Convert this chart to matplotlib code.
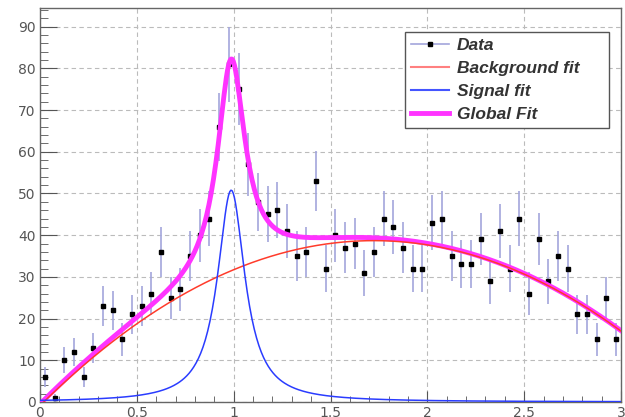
import numpy as np
import matplotlib
matplotlib.use("Agg")
import matplotlib.pyplot as plt
from matplotlib.lines import Line2D
from matplotlib.ticker import FuncFormatter, MultipleLocator

# histogram: 60 bins on [0, 3]
bin_lo, bin_hi = 0.0, 3.0
counts = [6, 1, 10, 12, 6, 13, 23, 22, 15, 21,
          23, 26, 36, 25, 27, 35, 40, 44, 66, 81,
          75, 57, 48, 45, 46, 41, 35, 36, 53, 32,
          40, 37, 38, 31, 36, 44, 42, 37, 32, 32,
          43, 44, 35, 33, 33, 39, 29, 41, 32, 44,
          26, 39, 29, 35, 32, 21, 21, 15, 25, 15]

# fit results: quadratic background + lorentzian peak
bkg_pars = [-0.864, 45.90, -13.315]
peak_area, peak_width, peak_mean = 13.75, 0.1723, 0.9873

legend_labels = ["Data", "Background fit", "Signal fit", "Global Fit"]

counts = np.array(counts, dtype=float)
nb = len(counts)
edges = np.linspace(bin_lo, bin_hi, nb + 1)
centers = 0.5 * (edges[:-1] + edges[1:])
errs = np.sqrt(counts)


def background(x):
    return bkg_pars[0] + bkg_pars[1] * x + bkg_pars[2] * x ** 2


def lorentz(x):
    return (0.5 * peak_area * peak_width / np.pi) / np.maximum(
        1e-10, (x - peak_mean) ** 2 + 0.25 * peak_width ** 2)


xs = np.linspace(bin_lo, bin_hi, 500)

fig = plt.figure(figsize=(6.25, 4.17), dpi=100)
ax = fig.add_axes([0.064, 0.036, 0.9296, 0.946])

err_col = "#a3a6dc"
ax.errorbar(centers, counts, yerr=errs, fmt="s", color="black", ms=3.5,
            ecolor=err_col, elinewidth=1.2, capsize=0, zorder=3)
ax.plot(xs, background(xs) + lorentz(xs), color="#ff33ff", lw=3.5, zorder=4)
ax.plot(xs, background(xs), color="#ff3b2b", lw=1.1, zorder=5)
ax.plot(xs, lorentz(xs), color="#2a3cff", lw=1.1, zorder=5)

ax.set_xlim(bin_lo, bin_hi)
ax.set_ylim(0, 94.6)
ax.xaxis.set_major_locator(MultipleLocator(0.5))
ax.xaxis.set_minor_locator(MultipleLocator(0.1))
ax.yaxis.set_major_locator(MultipleLocator(10))
ax.yaxis.set_minor_locator(MultipleLocator(2))
ax.xaxis.set_major_formatter(FuncFormatter(lambda v, p: f"{v:g}"))
ax.yaxis.set_major_formatter(FuncFormatter(lambda v, p: f"{v:g}"))

ax.tick_params(axis="both", which="both", direction="in", colors="#555555",
               labelcolor="#555555", labelsize=10)
ax.tick_params(axis="y", which="major", length=12, pad=3)
ax.tick_params(axis="y", which="minor", length=6)
ax.tick_params(axis="x", which="major", length=8, pad=3)
ax.tick_params(axis="x", which="minor", length=4)
ax.tick_params(top=False, right=False)

ax.grid(True, which="major", color="#bbbbbb", ls=(0, (4, 3)), lw=0.8)
ax.set_axisbelow(True)
for s in ax.spines.values():
    s.set_color("#666666")
    s.set_linewidth(1.0)

handles = [
    Line2D([], [], color=err_col, lw=1.2, marker="s", ms=3,
           mfc="black", mec="black"),
    Line2D([], [], color="#ff8080", lw=1.5),
    Line2D([], [], color="#4455ff", lw=1.5),
    Line2D([], [], color="#ff33ff", lw=3.5),
]
leg = ax.legend(handles, legend_labels, loc="upper left",
                bbox_to_anchor=(0.628, 0.684, 0.351, 0.254), mode="expand",
                borderaxespad=0, fancybox=False, framealpha=1,
                handlelength=2.2, handletextpad=0.45, labelspacing=0.45,
                borderpad=0.35,
                prop={"family": "Liberation Sans", "style": "italic",
                      "weight": "bold", "size": 12.5})
leg.get_frame().set_edgecolor("#555555")
leg.get_frame().set_linewidth(1.0)
for t in leg.get_texts():
    t.set_color("#333333")

fig.savefig("out.png", dpi=100)
